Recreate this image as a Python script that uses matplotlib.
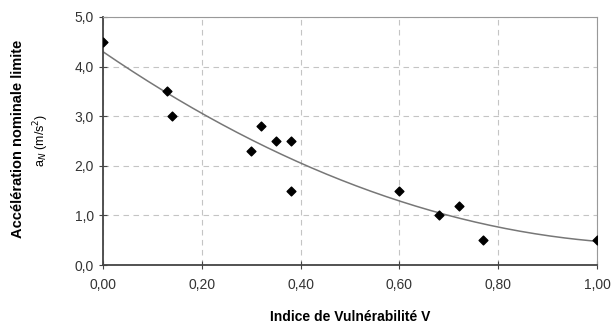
import numpy as np
import matplotlib
matplotlib.use("Agg")
import matplotlib.pyplot as plt

plt.rcParams['font.family'] = ['Liberation Sans', 'DejaVu Sans']

# points mesures
V = [0.00, 0.13, 0.14, 0.30, 0.32, 0.35, 0.38, 0.38, 0.60, 0.68, 0.72, 0.77, 1.00]
aN = [4.5, 3.5, 3.0, 2.3, 2.8, 2.5, 2.5, 1.5, 1.5, 1.0, 1.2, 0.5, 0.5]

xticks = [0.0, 0.2, 0.4, 0.6, 0.8, 1.0]
yticks = [0.0, 1.0, 2.0, 3.0, 4.0, 5.0]

# courbe de tendance polynomiale (ordre 2)
coef = np.polyfit(V, aN, 2)
xs = np.linspace(0, 1, 200)

fig = plt.figure(figsize=(6.13, 3.31), dpi=100)
ax = fig.add_axes([0.168, 0.199, 0.806, 0.75])

ax.plot(xs, np.polyval(coef, xs), color='#777777', lw=1.1, zorder=2)
ax.scatter(V, aN, marker='D', s=20, color='black', zorder=3)

ax.set_xlim(0, 1)
ax.set_ylim(0, 5)
ax.set_xticks(xticks)
ax.set_yticks(yticks)
ax.set_xticklabels([f"{t:.2f}".replace('.', ',') for t in xticks])
ax.set_yticklabels([f"{t:.1f}".replace('.', ',') for t in yticks])
ax.tick_params(direction='inout', length=6, color='#444444', labelsize=10, labelcolor='#333333')
ax.tick_params(axis='x', pad=6)
ax.grid(True, ls=(0, (5, 4)), color='#c4c4c4', lw=0.8)
for s in ['top', 'right']:
    ax.spines[s].set_color('#999999')
for s in ['left', 'bottom']:
    ax.spines[s].set_color('#444444')
    ax.spines[s].set_linewidth(1.3)

ax.set_xlabel("Indice de Vulnérabilité V", fontweight='bold', fontsize=10, labelpad=13)
fig.text(0.029, 0.58, "Accélération nominale limite", rotation=90, fontweight='bold',
         fontsize=10.5, ha='center', va='center')
fig.text(0.068, 0.577, r"a$_N$ (m/s$^2$)", rotation=90, fontsize=9,
         ha='center', va='center')

fig.savefig("out.png", dpi=100)
